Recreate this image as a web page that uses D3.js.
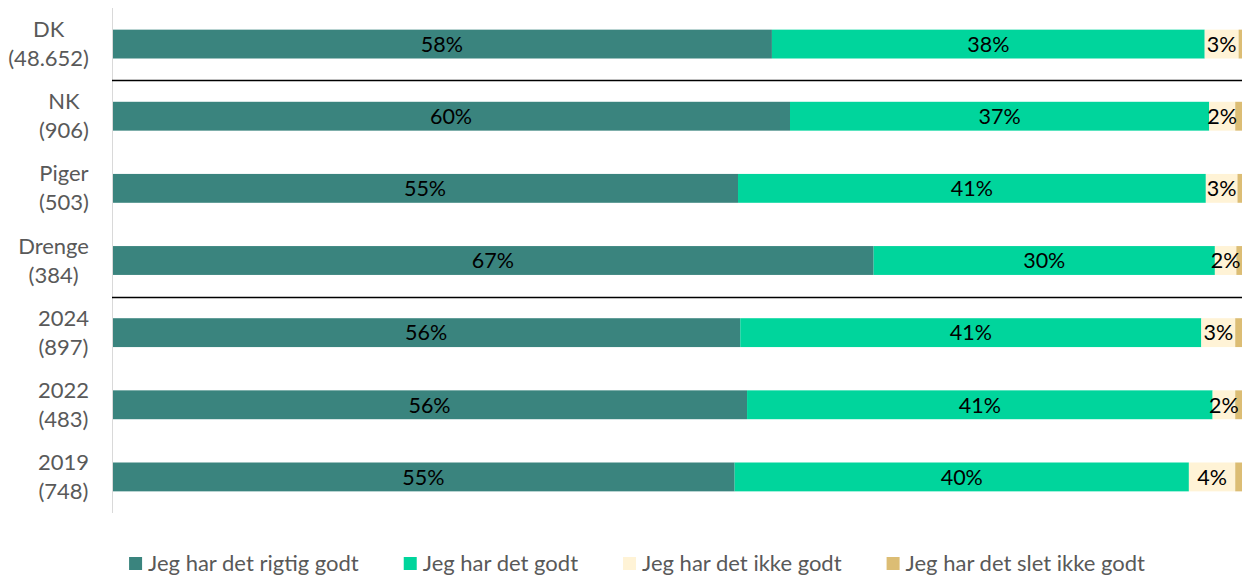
<!DOCTYPE html>
<html>
<head>
<meta charset="utf-8">
<script src="https://cdn.jsdelivr.net/npm/d3@7"></script>
<style>
  body { margin: 0; background: #fff; }
  svg { font-family: Lato, "Open Sans", sans-serif; }
  .cat { fill: #595959; font-size: 22px; }
  .val { fill: #000; font-size: 21.5px; }
  .leg { fill: #595959; font-size: 22px; }
</style>
</head>
<body>
<div id="chart"></div>
<script>
// categories (name + respondents)
var groups = ["DK", "NK", "Piger", "Drenge", "2024", "2022", "2019"];
var counts = ["(48.652)", "(906)", "(503)", "(384)", "(897)", "(483)", "(748)"];

// answer series
var series = ["Jeg har det rigtig godt", "Jeg har det godt", "Jeg har det ikke godt", "Jeg har det slet ikke godt"];
var rigtigGodt = [58.4, 60.0, 55.4, 67.4, 55.6, 56.2, 55.1];
var godt       = [38.3, 37.1, 41.4, 30.2, 40.8, 41.2, 40.2];
var ikkeGodt   = [3.0, 2.3, 2.8, 1.9, 3.0, 2.0, 4.1];
var sletIkke   = [0.3, 0.6, 0.4, 0.5, 0.6, 0.6, 0.6];
var colors = ["#3a847e", "#00d59c", "#fff3d6", "#dcbd74"];

// width and height
var w = 1242, h = 575;
var left = 112, right = 1242;

var svg = d3.select("#chart").append("svg")
  .attr("width", w)
  .attr("height", h);

var x = d3.scaleLinear().domain([0, 100]).range([left, right]);
var y = d3.scaleBand().domain(groups).range([8, 513])
  .paddingInner(0.6).paddingOuter(0.3);

// build rows for stacking
var rows = groups.map(function(g, i){
  return { group: g, s0: rigtigGodt[i], s1: godt[i], s2: ikkeGodt[i], s3: sletIkke[i] };
});
var stack = d3.stack().keys(["s0", "s1", "s2", "s3"]);
var layers = stack(rows);

// bars
var layer = svg.append("g").selectAll("g")
  .data(layers)
  .enter().append("g")
  .attr("fill", function(d, i){ return colors[i]; });

layer.selectAll("rect")
  .data(function(d){ return d; })
  .enter().append("rect")
  .attr("x", function(d){ return x(d[0]); })
  .attr("y", function(d){ return y(d.data.group); })
  .attr("width", function(d){ return x(d[1]) - x(d[0]); })
  .attr("height", y.bandwidth());

// value labels (first three series only)
layers.slice(0, 3).forEach(function(L){
  svg.append("g").selectAll("text")
    .data(L)
    .enter().append("text")
    .attr("class", "val")
    .attr("x", function(d){ return (x(d[0]) + x(d[1])) / 2; })
    .attr("y", function(d){ return y(d.data.group) + y.bandwidth() / 2; })
    .attr("dy", "0.36em")
    .attr("text-anchor", "middle")
    .text(function(d){ return Math.round(d[1] - d[0]) + "%"; });
});

// y axis line
svg.append("line")
  .attr("x1", left + 0.5).attr("x2", left + 0.5)
  .attr("y1", 8).attr("y2", 513)
  .attr("stroke", "#d9d9d9").attr("stroke-width", 1);

// separator lines
[["DK", "NK"], ["Drenge", "2024"]].forEach(function(p){
  var yy = Math.round((y(p[0]) + y.bandwidth() + y(p[1])) / 2) + 0.5;
  svg.append("line")
    .attr("x1", left).attr("x2", right)
    .attr("y1", yy).attr("y2", yy)
    .attr("stroke", "#000").attr("stroke-width", 1.3);
});

// category labels: two centred lines, block right-aligned
var cat = svg.append("g").selectAll("text")
  .data(groups)
  .enter().append("text")
  .attr("class", "cat")
  .attr("text-anchor", "middle")
  .attr("y", function(d){ return y(d) + y.bandwidth() / 2; });
cat.append("tspan").attr("class", "l1").attr("dy", -7).text(function(d){ return d; });
cat.append("tspan").attr("class", "l2").attr("dy", 29).text(function(d, i){ return counts[i]; });
cat.each(function(){
  var t = d3.select(this);
  var wmax = Math.max(t.select(".l1").node().getComputedTextLength(),
                      t.select(".l2").node().getComputedTextLength());
  var cx = 89 - wmax / 2;
  t.selectAll("tspan").attr("x", cx);
});

// legend
var leg = svg.append("g");
var items = leg.selectAll("g")
  .data(series)
  .enter().append("g");
items.append("rect")
  .attr("width", 13).attr("height", 13)
  .attr("y", 557)
  .attr("fill", function(d, i){ return colors[i]; });
items.append("text")
  .attr("class", "leg")
  .attr("x", 19)
  .attr("y", 571)
  .text(function(d){ return d; });

var pos = 0, offs = [];
items.each(function(){
  offs.push(pos);
  pos += 19 + d3.select(this).select("text").node().getComputedTextLength() + 45;
});
var total = pos - 45;
var start = 637 - total / 2;
items.attr("transform", function(d, i){ return "translate(" + (start + offs[i]) + ",0)"; });
</script>
</body>
</html>
